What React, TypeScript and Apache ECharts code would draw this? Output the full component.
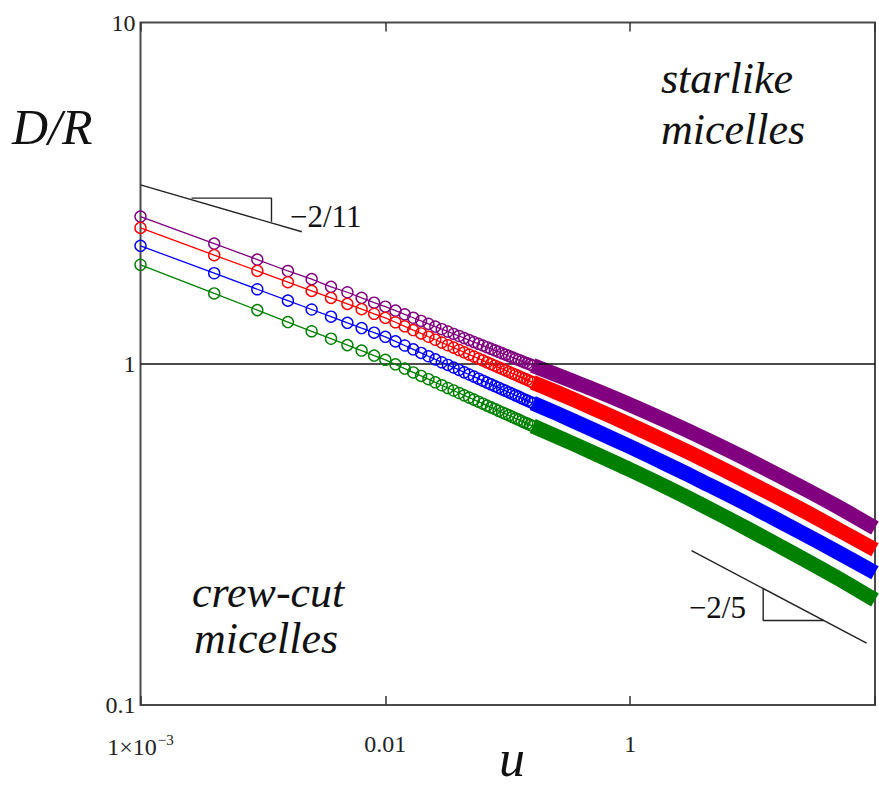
import React, { useEffect, useRef } from "react";
import * as echarts from "echarts";

// u values for the individually visible markers (k = 1 ... 40, step 0.001)
const uMarkers = [
  0.001, 0.002, 0.003, 0.004, 0.005, 0.006, 0.007, 0.008, 0.009, 0.01,
  0.011, 0.012, 0.013, 0.014, 0.015, 0.016, 0.017, 0.018, 0.019, 0.02,
  0.021, 0.022, 0.023, 0.024, 0.025, 0.026, 0.027, 0.028, 0.029, 0.03,
  0.031, 0.032, 0.033, 0.034, 0.035, 0.036, 0.037, 0.038, 0.039, 0.04,
];
const purpleMarkers = [
  2.7, 2.25, 2.02, 1.87, 1.77, 1.68, 1.62, 1.56, 1.51, 1.47,
  1.431, 1.396, 1.364, 1.335, 1.309, 1.285, 1.263, 1.243, 1.223, 1.206,
  1.189, 1.173, 1.158, 1.144, 1.131, 1.118, 1.106, 1.095, 1.084, 1.073,
  1.063, 1.053, 1.044, 1.035, 1.026, 1.018, 1.01, 1.003, 0.995, 0.988,
];
const redMarkers = [
  2.5, 2.081, 1.871, 1.734, 1.635, 1.559, 1.497, 1.445, 1.401, 1.363,
  1.323, 1.287, 1.255, 1.227, 1.2, 1.176, 1.154, 1.133, 1.115, 1.097,
  1.08, 1.064, 1.05, 1.036, 1.023, 1.01, 0.998, 0.987, 0.976, 0.966,
  0.956, 0.946, 0.937, 0.929, 0.92, 0.912, 0.904, 0.897, 0.889, 0.882,
];
const blueMarkers = [
  2.216, 1.842, 1.653, 1.531, 1.442, 1.374, 1.318, 1.272, 1.233, 1.199,
  1.163, 1.131, 1.102, 1.076, 1.052, 1.03, 1.01, 0.992, 0.975, 0.959,
  0.944, 0.93, 0.917, 0.904, 0.892, 0.881, 0.87, 0.86, 0.851, 0.841,
  0.833, 0.824, 0.816, 0.808, 0.801, 0.793, 0.786, 0.78, 0.773, 0.767,
];
const greenMarkers = [
  1.95, 1.607, 1.436, 1.325, 1.245, 1.184, 1.134, 1.093, 1.057, 1.027,
  0.996, 0.968, 0.943, 0.921, 0.901, 0.882, 0.865, 0.849, 0.835, 0.821,
  0.808, 0.796, 0.785, 0.774, 0.764, 0.754, 0.745, 0.737, 0.728, 0.72,
  0.713, 0.706, 0.699, 0.692, 0.686, 0.679, 0.673, 0.668, 0.662, 0.657,
];

// dense part of the curves (markers merge into a solid band)
const uBand = [0.04, 0.05, 0.07, 0.1, 0.15, 0.2, 0.3, 0.5, 0.7, 1.0];
const purpleBand = [0.988, 0.929, 0.844, 0.758, 0.666, 0.605, 0.525, 0.435, 0.382, 0.33];
const redBand = [0.882, 0.825, 0.743, 0.662, 0.578, 0.523, 0.452, 0.374, 0.328, 0.285];
const blueBand = [0.767, 0.716, 0.642, 0.571, 0.497, 0.449, 0.388, 0.32, 0.281, 0.244];
const greenBand = [0.657, 0.613, 0.55, 0.489, 0.425, 0.383, 0.329, 0.27, 0.236, 0.203];

// slope guides (u, D/R)
const guideTop = [[0.001, 3.345], [0.00456, 2.436]];
const triTop = [[0.001616, 3.058], [0.003428, 3.058], [0.003428, 2.606]];
const guideBottom = [[0.1781, 0.2834], [0.924, 0.1518]];
const triBottom = [[0.3494, 0.2196], [0.3494, 0.1768], [0.6183, 0.1768]];

const xTickLabels: Record<string, string> = {
  "-3": "1×10{sup|−3}",
  "-2": "0.01",
  "-1": "1",
  "0": "",
};
const yTickLabels: Record<string, string> = { "-1": "0.1", "0": "1", "1": "10" };

const COLORS = { purple: "#800080", red: "#ff0000", blue: "#0000ff", green: "#008000" };
const SERIF = "Liberation Serif";

const zip = (xs: number[], ys: number[]) => xs.map((x, i) => [x, ys[i]]);

export default function App() {
  const ref = useRef<HTMLDivElement>(null);

  useEffect(() => {
    if (!ref.current) return;
    const chart = echarts.init(ref.current, undefined, { renderer: "svg" });

    const markerSeries = (name: string, ys: number[], color: string, z: number) => ({
      name,
      type: "line",
      data: zip(uMarkers, ys),
      symbol: "circle",
      symbolSize: 11,
      showSymbol: true,
      showAllSymbol: true,
      itemStyle: { color: "rgba(255,255,255,0)", borderColor: color, borderWidth: 1.4 },
      lineStyle: { color, width: 1.3 },
      emphasis: { disabled: true },
      silent: true,
      z,
    });
    const bandSeries = (name: string, ys: number[], color: string, z: number) => ({
      name: name + "-band",
      type: "line",
      data: zip(uBand, ys),
      symbol: "none",
      smooth: 0.3,
      lineStyle: { color, width: 15, cap: "butt", join: "round" },
      emphasis: { disabled: true },
      silent: true,
      z,
    });
    const guide = (data: number[][]) => ({
      type: "line",
      data,
      symbol: "none",
      lineStyle: { color: "#222", width: 1.4 },
      emphasis: { disabled: true },
      silent: true,
      z: 5,
    });

    const xAxisCommon = {
      type: "log",
      logBase: 10,
      min: 0.001,
      max: 1,
      interval: 1,
      axisLine: { show: false },
      splitLine: { show: false },
      axisTick: { show: true, inside: true, length: 9, lineStyle: { color: "#333", width: 1.5 } },
    };

    const txt = (text: string, x: number, y: number, size: number, italic: boolean, align: string) => ({
      type: "text",
      x,
      y,
      style: {
        text,
        fontSize: size,
        fontStyle: italic ? "italic" : "normal",
        fontFamily: SERIF,
        fill: "#111",
        align,
        verticalAlign: "middle",
      },
    });

    chart.setOption({
      animation: false,
      backgroundColor: "#ffffff",
      grid: {
        left: 140.5,
        right: 4,
        top: 22.5,
        bottom: 86,
        show: true,
        borderColor: "#4a4a4a",
        borderWidth: 2,
        backgroundColor: "#ffffff",
      },
      xAxis: [
        {
          ...xAxisCommon,
          position: "bottom",
          axisLabel: {
            margin: 27,
            fontSize: 24,
            fontFamily: SERIF,
            color: "#222",
            formatter: (v: number) => xTickLabels[String(Math.round(Math.log10(v)))] ?? "",
            rich: {
              sup: { fontSize: 15, fontFamily: SERIF, color: "#222", verticalAlign: "top", padding: [0, 0, 14, 1] },
            },
          },
        },
        {
          ...xAxisCommon,
          position: "top",
          axisLabel: { show: false },
        },
      ],
      yAxis: {
        type: "log",
        logBase: 10,
        min: 0.1,
        max: 10,
        interval: 1,
        axisLine: { show: false },
        axisTick: { show: false },
        splitLine: { show: false },
        axisLabel: {
          margin: 5,
          fontSize: 24,
          fontFamily: SERIF,
          color: "#222",
          formatter: (v: number) => yTickLabels[String(Math.round(Math.log10(v)))] ?? "",
        },
      },
      series: [
        {
          ...guide(guideTop),
          markLine: {
            silent: true,
            symbol: "none",
            label: { show: false },
            lineStyle: { color: "#111", width: 1.6, type: "solid" },
            data: [{ yAxis: 1 }],
          },
        },
        guide(triTop),
        guide(guideBottom),
        guide(triBottom),
        bandSeries("purple", purpleBand, COLORS.purple, 2),
        bandSeries("red", redBand, COLORS.red, 3),
        bandSeries("blue", blueBand, COLORS.blue, 4),
        bandSeries("green", greenBand, COLORS.green, 5),
        markerSeries("purple", purpleMarkers, COLORS.purple, 6),
        markerSeries("red", redMarkers, COLORS.red, 7),
        markerSeries("blue", blueMarkers, COLORS.blue, 8),
        markerSeries("green", greenMarkers, COLORS.green, 9),
      ],
      graphic: [
        txt("D/R", 12, 127, 50, true, "left"),
        txt("u", 512, 758, 52, true, "center"),
        txt("starlike", 661, 78, 44, true, "left"),
        txt("micelles", 661, 129, 44, true, "left"),
        txt("crew-cut", 192, 592, 44, true, "left"),
        txt("micelles", 194, 638, 44, true, "left"),
        txt("−2/11", 290, 216, 31, false, "left"),
        txt("−2/5", 746, 607, 31, false, "right"),
      ],
    });

    return () => chart.dispose();
  }, []);

  return (
    <div
      ref={ref}
      style={{ position: "fixed", left: 0, top: 0, width: 879, height: 791, background: "#ffffff" }}
    />
  );
}
